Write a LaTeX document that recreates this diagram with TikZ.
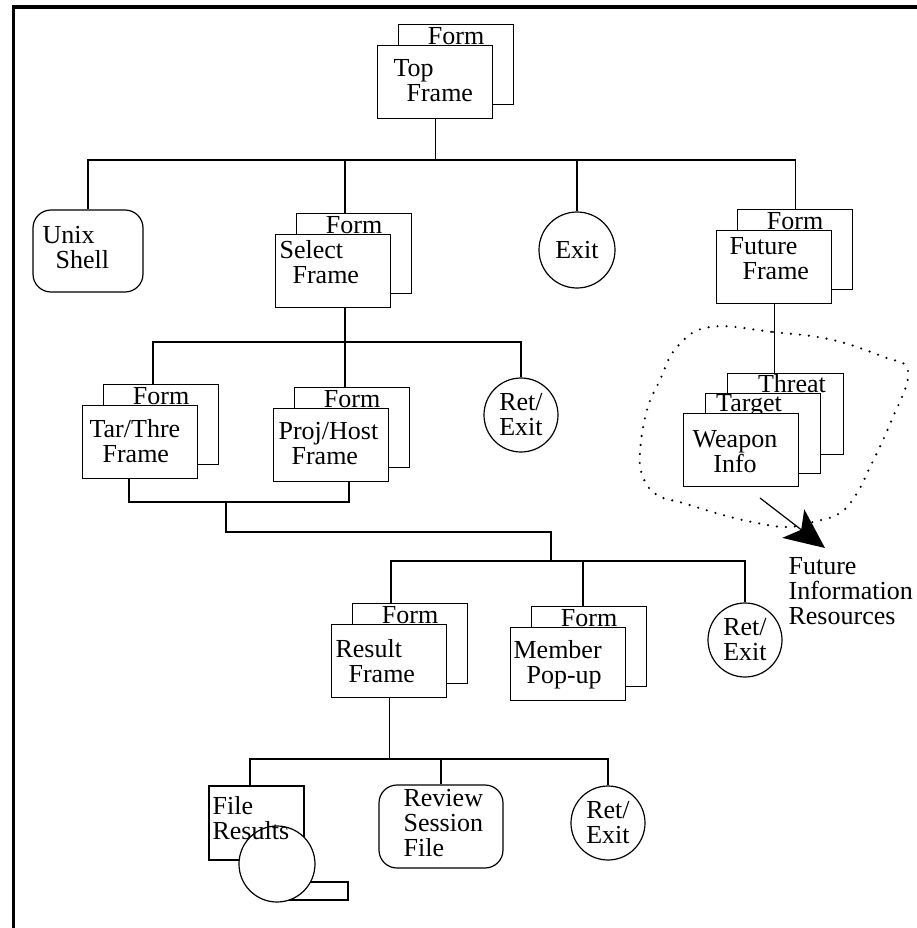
\documentclass[tikz,border=0pt]{standalone}
\usepackage{fontspec}
\setmainfont{Liberation Serif}
\usetikzlibrary{arrows.meta}
\newcommand{\frind}{\hspace*{6.5pt}}
\setlength{\lineskiplimit}{-20pt}

\begin{document}
\begin{tikzpicture}[
        x=0.5pt, y=-0.5pt,
        font=\fontsize{13}{12.5}\selectfont,
        line width=0.6pt,
        backbox/.style={
            draw,
            fill=white,
            anchor=north west,
            inner sep=0pt,
            minimum width=57.5pt,
            minimum height=40pt
        },
        frontbox/.style={
            draw,
            fill=white,
            anchor=north west,
            inner sep=0pt,
            minimum width=57.5pt,
            minimum height=36.5pt
        },
        roundbox/.style={
            draw,
            fill=white,
            rounded corners=9pt,
            inner sep=0pt
        },
        exitcirc/.style={
            draw,
            fill=white,
            circle,
            inner sep=0pt,
            minimum size=37pt,
            align=center
        },
        formlbl/.style={anchor=north, inner sep=0pt},
        boxtext/.style={anchor=north west, inner sep=0pt, align=left},
        blobline/.style={line width=1.2pt, dash pattern=on 0pt off 4.5pt, line cap=round},
        bigarrow/.style={-{Stealth[length=20pt,width=18pt,inset=5pt]}}
    ]
        \useasboundingbox (0,0) rectangle (917,928);
        % page border (left and top only)
        \draw[line width=1.6pt] (13.5,928) -- (13.5,7) -- (917,7);

        % top frame
        \node[backbox] (topb) at (398,24) {};
        \node[formlbl] (topform) at ([yshift=-1.5pt]topb.north) {Form};
        \node[frontbox] (topf) at ([shift={(-21,21)}]topb.north west) {};
        \node[boxtext] (topt) at (393,59) {Top\\\frind Frame};

        % second level
        \node[roundbox, minimum width=55pt, minimum height=41pt] (unix) at (88,251) {};
        \node[boxtext] (unixt) at (42,226) {Unix\\\frind Shell};

        \node[backbox] (selb) at (296,213) {};
        \node[formlbl] (selform) at ([yshift=-1.5pt]selb.north) {Form};
        \node[frontbox] (self) at ([shift={(-21,21)}]selb.north west) {};
        \node[boxtext] (selt) at (279,240) {Select\\\frind Frame};

        \node[exitcirc, minimum size=38pt] (exit) at (577,250) {Exit};

        \node[backbox] (futb) at (737,209) {};
        \node[formlbl] (futform) at ([yshift=-1.5pt]futb.north) {Form};
        \node[frontbox] (futf) at ([shift={(-21,21)}]futb.north west) {};
        \node[boxtext] (futt) at (729,237) {Future\\\frind Frame};

        % future information stack
        \node[backbox, minimum width=58pt, minimum height=40.5pt] (threat) at (727,373) {};
        \node[formlbl] (threatlbl) at (792,374) {Threat};
        \node[backbox] (target) at ([shift={(-22,20)}]threat.north west) {};
        \node[formlbl] (targetlbl) at (749,394) {Target};
        \node[frontbox] (weapon) at ([shift={(-22,20)}]target.north west) {};
        \node[formlbl, align=center] (weapont) at (735,430) {Weapon\\Info};

        \draw[blobline] plot[smooth cycle, tension=0.7] coordinates {
            (710,327) (773,332) (833,340) (887,358) (905,365) (907,383)
            (893,417) (883,440) (870,467) (857,493) (840,513) (813,522)
            (787,527) (757,523) (723,515) (683,503) (657,495) (643,477)
            (640,452) (647,410) (660,380) (677,347)};

        \coordinate (arrtail) at (760,498);
        \coordinate (arrtip) at (825,548);
        \draw[bigarrow] (arrtail) -- (arrtip);
        \node[boxtext] (futinfo) at (788,557) {Future\\Information\\Resources};

        % third level
        \node[backbox] (tarb) at (103,384) {};
        \node[formlbl] (tarform) at ([yshift=-1.5pt]tarb.north) {Form};
        \node[frontbox] (tarf) at ([shift={(-21,21)}]tarb.north west) {};
        \node[boxtext] (tart) at (89,419) {Tar/Thre\\\frind Frame};

        \node[backbox] (projb) at (294,387) {};
        \node[formlbl] (projform) at ([yshift=-1.5pt]projb.north) {Form};
        \node[frontbox] (projf) at ([shift={(-21,21)}]projb.north west) {};
        \node[boxtext] (projt) at (278,422) {Proj/Host\\\frind Frame};

        \node[exitcirc] (ret1) at (521,415) {Ret/\\Exit};

        % fourth level
        \node[backbox] (resb) at (352,603) {};
        \node[formlbl] (resform) at ([yshift=-1.5pt]resb.north) {Form};
        \node[frontbox] (resf) at ([shift={(-21,21)}]resb.north west) {};
        \node[boxtext] (rest) at (335,639) {Result\\\frind Frame};

        \node[backbox] (memb) at (531,606) {};
        \node[formlbl] (memform) at ([yshift=-1.5pt]memb.north) {Form};
        \node[frontbox] (memf) at ([shift={(-21,21)}]memb.north west) {};
        \node[boxtext] (memt) at (513,640) {Member\\\frind Pop-up};

        \node[exitcirc] (ret2) at (745,640) {Ret/\\Exit};

        % bottom level
        \node[draw, fill=white, inner sep=0pt, minimum width=47.5pt, minimum height=37pt] (filebox) at (256.5,823) {};
        \node[draw, fill=white, inner sep=0pt, minimum width=35.5pt, minimum height=9pt] (tape) at (312.5,891) {};
        \node[draw, fill=white, circle, inner sep=0pt, minimum size=38pt] (disk) at (277,864) {};
        \node[boxtext] (filet) at (212,796) {File\\Results};

        \node[roundbox, minimum width=62pt, minimum height=41.5pt] (review) at (441,826.5) {};
        \node[boxtext] (reviewt) at (403,789) {Review\\Session\\File};

        \node[exitcirc] (ret3) at (608,823) {Ret/\\Exit};

        % connectors
        \coordinate (busa) at (0,160);
        \coordinate (jsel) at (345,160);
        \coordinate (jtar) at (153,342);
        \coordinate (jc1) at (129,502);
        \coordinate (jc2) at (349,502);
        \coordinate (jc3) at (226,502);
        \coordinate (jd) at (551,532);
        \coordinate (jres) at (391,561);
        \coordinate (jmem) at (583,561);
        \coordinate (jfile) at (250,759);

        \draw (topf.south) -- (topf.south |- busa);
        \draw (unix.north) -- (unix.north |- busa) -- (futb.north |- busa) -- (futb.north);
        \draw (jsel) -- (jsel |- selb.north);
        \draw (exit.north) -- (exit.north |- busa);
        \draw (futf.south) -- (futf.south |- threat.north);

        \draw (jsel |- self.south) -- (jsel |- jtar);
        \draw (jtar |- tarb.north) -- (jtar) -- (ret1.north |- jtar) -- (ret1.north);
        \draw (jsel |- jtar) -- (jsel |- projb.north);

        \draw (jc1 |- tarf.south) -- (jc1) -- (jc2) -- (jc2 |- projf.south);
        \draw (jc3) |- (jd) -- (jd |- jres);
        \draw (jres |- resb.north) -- (jres) -- (ret2.north |- jres) -- (ret2.north);
        \draw (jmem) -- (jmem |- memb.north);

        \draw (resf.south) -- (resf.south |- jfile);
        \draw (jfile |- filebox.north) -- (jfile) -- (ret3.north |- jfile) -- (ret3.north);
        \draw (review.north |- jfile) -- (review.north);
    \end{tikzpicture}
\end{document}
